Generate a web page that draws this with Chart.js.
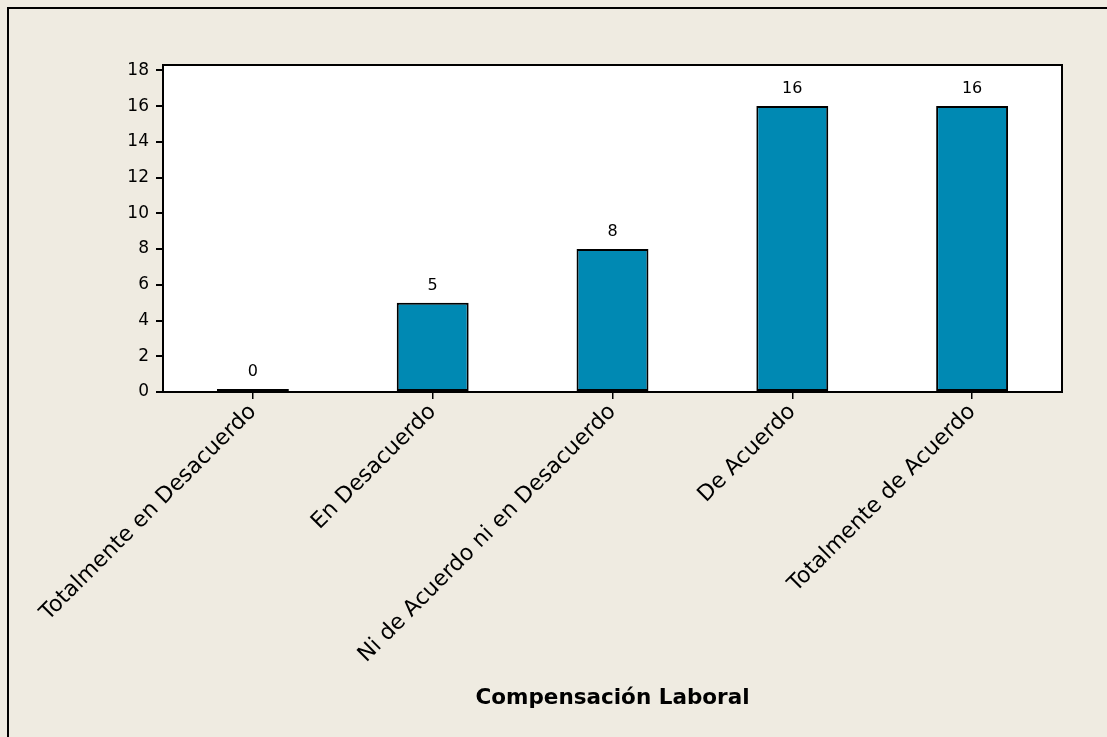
<!DOCTYPE html>
<html lang="es">
<head>
    <meta charset="UTF-8">
    <title>Compensación Laboral</title>
    <script src="https://cdn.jsdelivr.net/npm/chart.js"></script>
    <style>
        html, body {
            margin: 0;
            padding: 0;
            background-color: #efebe1;
        }
        #wrap {
            width: 1107px;
            height: 737px;
        }
    </style>
</head>
<body>
    <div id="wrap"><canvas id="chart"></canvas></div>

    <script>
        const categories = ['Totalmente en Desacuerdo', 'En Desacuerdo', 'Ni de Acuerdo ni en Desacuerdo', 'De Acuerdo', 'Totalmente de Acuerdo'];
        const counts = [0, 5, 8, 16, 16];
        const yTicks = [0, 2, 4, 6, 8, 10, 12, 14, 16, 18];
        const axisTitle = 'Compensación Laboral';

        const fontFamily = 'DejaVu Sans, Verdana, sans-serif';

        // beige page, white plot area, outer frame and value labels
        const decorations = {
            id: 'decorations',
            beforeDraw(chart) {
                const ctx = chart.ctx;
                const a = chart.chartArea;
                ctx.save();
                ctx.fillStyle = '#efebe1';
                ctx.fillRect(0, 0, chart.width, chart.height);
                ctx.strokeStyle = '#000';
                ctx.lineWidth = 2;
                ctx.beginPath();
                ctx.moveTo(8, chart.height);
                ctx.lineTo(8, 8);
                ctx.lineTo(chart.width, 8);
                ctx.stroke();
                ctx.fillStyle = '#fff';
                ctx.fillRect(a.left, a.top, a.right - a.left, a.bottom - a.top);
                ctx.restore();
            },
            afterDraw(chart) {
                const ctx = chart.ctx;
                const a = chart.chartArea;
                ctx.save();
                ctx.strokeStyle = '#000';
                ctx.lineWidth = 2;
                ctx.strokeRect(a.left, a.top, a.right - a.left, a.bottom - a.top);

                ctx.fillStyle = '#000';
                ctx.font = '16px ' + fontFamily;
                ctx.textAlign = 'center';
                ctx.textBaseline = 'bottom';
                const meta = chart.getDatasetMeta(0);
                meta.data.forEach((bar, i) => {
                    ctx.fillText(String(counts[i]), bar.x, bar.y - 9);
                });
                ctx.restore();
            }
        };

        const ctx = document.getElementById('chart').getContext('2d');
        new Chart(ctx, {
            type: 'bar',
            data: {
                labels: categories,
                datasets: [{
                    data: counts,
                    backgroundColor: '#0089b3',
                    borderColor: '#000',
                    borderWidth: 2,
                    borderSkipped: false,
                    minBarLength: 3,
                    barPercentage: 0.4,
                    categoryPercentage: 1.0
                }]
            },
            options: {
                responsive: true,
                maintainAspectRatio: false,
                animation: false,
                layout: {
                    padding: { left: 0, top: 65, right: 45, bottom: 0 }
                },
                plugins: {
                    legend: { display: false },
                    tooltip: { enabled: false }
                },
                scales: {
                    x: {
                        grid: {
                            display: true,
                            offset: false,
                            drawOnChartArea: false,
                            drawTicks: true,
                            tickLength: 7,
                            color: '#000',
                            lineWidth: 1.5
                        },
                        border: { display: true, color: '#000', width: 2 },
                        ticks: {
                            color: '#000',
                            font: { family: fontFamily, size: 22 },
                            minRotation: 45,
                            maxRotation: 45,
                            padding: 0,
                            autoSkip: false
                        },
                        title: {
                            display: true,
                            text: axisTitle,
                            color: '#000',
                            font: { family: fontFamily, size: 21.5, weight: 'bold' },
                            padding: { top: 0, bottom: 26 }
                        },
                        afterFit(scale) {
                            scale.height = 345;
                        }
                    },
                    y: {
                        min: 0,
                        max: 18.3,
                        grid: {
                            display: true,
                            drawOnChartArea: false,
                            drawTicks: true,
                            tickLength: 7,
                            color: '#000',
                            lineWidth: 2
                        },
                        border: { display: true, color: '#000', width: 2 },
                        ticks: {
                            color: '#000',
                            font: { family: fontFamily, size: 17 },
                            padding: 7,
                            stepSize: 2
                        },
                        afterBuildTicks(scale) {
                            scale.ticks = yTicks.map(v => ({ value: v }));
                        },
                        afterFit(scale) {
                            scale.width = 163;
                        }
                    }
                }
            },
            plugins: [decorations]
        });
    </script>
</body>
</html>
